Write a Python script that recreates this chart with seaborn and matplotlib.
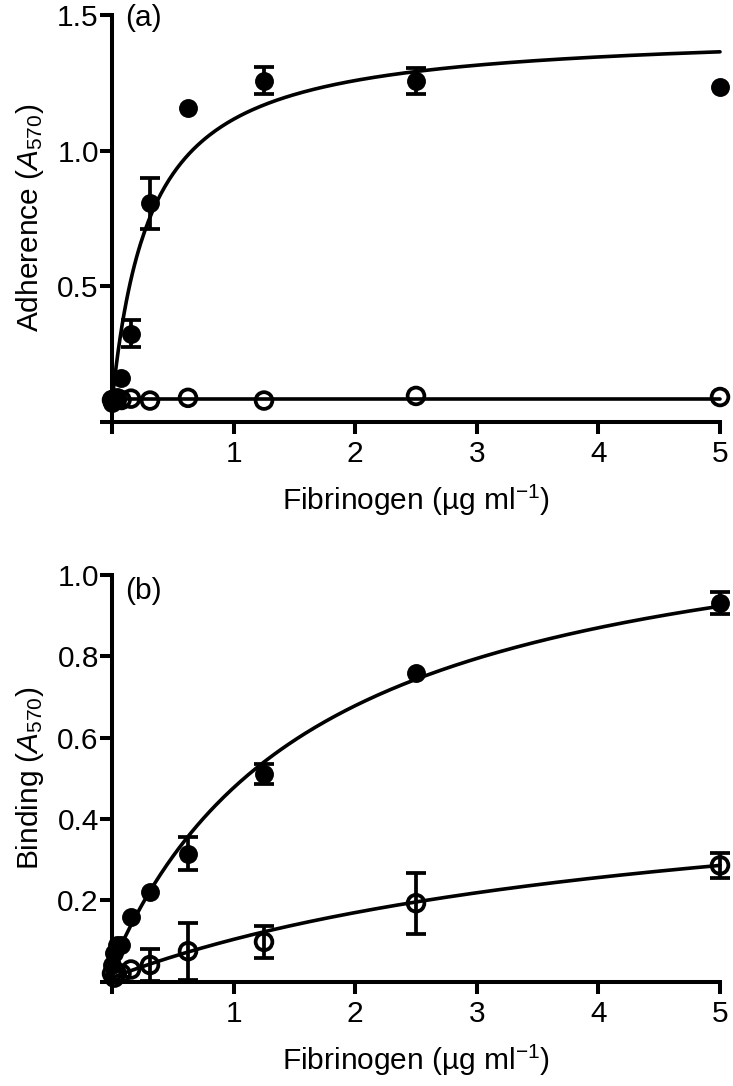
import numpy as np
import pandas as pd
import matplotlib
matplotlib.use("Agg")
import matplotlib.pyplot as plt
import seaborn as sns

# ---------------- data ----------------
fib = [0.0, 0.0195, 0.039, 0.078, 0.156, 0.3125, 0.625, 1.25, 2.5, 5.0]

# panel (a) adherence
adh_filled = [0.07, 0.08, 0.09, 0.16, 0.325, 0.805, 1.158, 1.257, 1.257, 1.233]
adh_filled_err = [0.0, 0.0, 0.0, 0.0, 0.05, 0.095, 0.0, 0.05, 0.048, 0.0]
adh_open = [0.08, 0.08, 0.08, 0.08, 0.085, 0.078, 0.088, 0.078, 0.095, 0.091]
adh_open_err = [0.0] * 10

# panel (b) binding
bind_filled = [0.04, 0.07, 0.09, 0.09, 0.159, 0.22, 0.315, 0.511, 0.759, 0.931]
bind_filled_err = [0.0, 0.0, 0.0, 0.0, 0.0, 0.0, 0.04, 0.025, 0.0, 0.027]
bind_open = [0.02, 0.01, 0.02, 0.02, 0.03, 0.041, 0.075, 0.098, 0.193, 0.286]
bind_open_err = [0.0, 0.0, 0.0, 0.0, 0.0, 0.04, 0.07, 0.04, 0.075, 0.03]

# fitted one-site binding curves (baseline, Bmax, Kd)
fit_a_filled = (0.07, 1.376, 0.316)
fit_a_open = (0.083, 0.0, 1.0)
fit_b_filled = (0.04, 1.186, 1.714)
fit_b_open = (0.01, 0.534, 4.675)

xticks = [0, 1, 2, 3, 4, 5]
xticklabels = ["", "1", "2", "3", "4", "5"]
yticks_a = [0, 0.5, 1.0, 1.5]
yticklabels_a = ["", "0.5", "1.0", "1.5"]
yticks_b = [0, 0.2, 0.4, 0.6, 0.8, 1.0]
yticklabels_b = ["", "0.2", "0.4", "0.6", "0.8", "1.0"]

# ---------------- style ----------------
sns.set_theme(style="ticks")
FONT = "Liberation Sans"
plt.rcParams["font.family"] = [FONT, "DejaVu Sans"]
plt.rcParams["mathtext.fontset"] = "custom"
plt.rcParams["mathtext.rm"] = FONT
plt.rcParams["mathtext.it"] = FONT + ":italic"
plt.rcParams["mathtext.default"] = "regular"

LW = 2.9
FS = 21.5

fig = plt.figure(figsize=(7.33, 10.86), dpi=100)
L, R = 112 / 733, 720 / 733
ax_a = fig.add_axes([L, 1 - 421.7 / 1086, R - L, (421.7 - 15) / 1086])
ax_b = fig.add_axes([L, 1 - 981.7 / 1086, R - L, (981.7 - 575) / 1086])


def curve(params, xmax=5.0):
    y0, bmax, kd = params
    xs = np.linspace(0, xmax, 300)
    return pd.DataFrame({"x": xs, "y": y0 + bmax * xs / (kd + xs)})


def draw(ax, yf, yf_err, yo, yo_err, pf, po, yt, ytl, ylab, tag, tag_y):
    for p in (pf, po):
        d = curve(p)
        sns.lineplot(data=d, x="x", y="y", ax=ax, color="black", lw=2.6,
                     zorder=2, clip_on=False)
    df = pd.DataFrame({"x": fib, "y": yf, "e": yf_err})
    do = pd.DataFrame({"x": fib, "y": yo, "e": yo_err})
    for d in (df, do):
        m = d["e"] > 0
        ax.errorbar(d["x"][m], d["y"][m], yerr=d["e"][m], fmt="none",
                    ecolor="black", elinewidth=2.7, capsize=7.5, capthick=2.7,
                    zorder=3, clip_on=False)
    sns.scatterplot(data=df, x="x", y="y", ax=ax, color="black", s=185,
                    edgecolor="black", linewidth=0, zorder=4, clip_on=False)
    sns.scatterplot(data=do, x="x", y="y", ax=ax, facecolor="none", s=145,
                    edgecolor="black", linewidth=2.7, zorder=4, clip_on=False)
    ax.set_xlim(0, 5.0)
    ax.set_ylim(yt[0], yt[-1])
    ax.set_xticks(xticks)
    ax.set_xticklabels(xticklabels)
    ax.set_yticks(yt)
    ax.set_yticklabels(ytl)
    sns.despine(ax=ax)
    for s in ("left", "bottom"):
        ax.spines[s].set_linewidth(LW)
        ax.spines[s].set_color("black")
        ax.spines[s].set_capstyle("projecting")
    ax.tick_params(axis="both", length=8.5, width=LW, color="black",
                   labelsize=FS, labelcolor="black")
    ax.tick_params(axis="y", pad=1)
    ax.tick_params(axis="x", pad=5)
    ax.set_xlabel(r"Fibrinogen (µg ml$^{-1}$)", fontsize=FS, labelpad=10,
                  color="black")
    ax.set_ylabel(ylab, fontsize=FS, labelpad=8, color="black")
    ax.text(0.022, tag_y, tag, transform=ax.transAxes, fontsize=FS,
            ha="left", va="top", color="black")
    ax.set_facecolor("white")


draw(ax_a, adh_filled, adh_filled_err, adh_open, adh_open_err,
     fit_a_filled, fit_a_open, yticks_a, yticklabels_a,
     r"Adherence ($\mathit{A}_{570}$)", "(a)", 1.027)
draw(ax_b, bind_filled, bind_filled_err, bind_open, bind_open_err,
     fit_b_filled, fit_b_open, yticks_b, yticklabels_b,
     r"Binding ($\mathit{A}_{570}$)", "(b)", 0.995)

fig.savefig("out.png", dpi=100, facecolor="white")
